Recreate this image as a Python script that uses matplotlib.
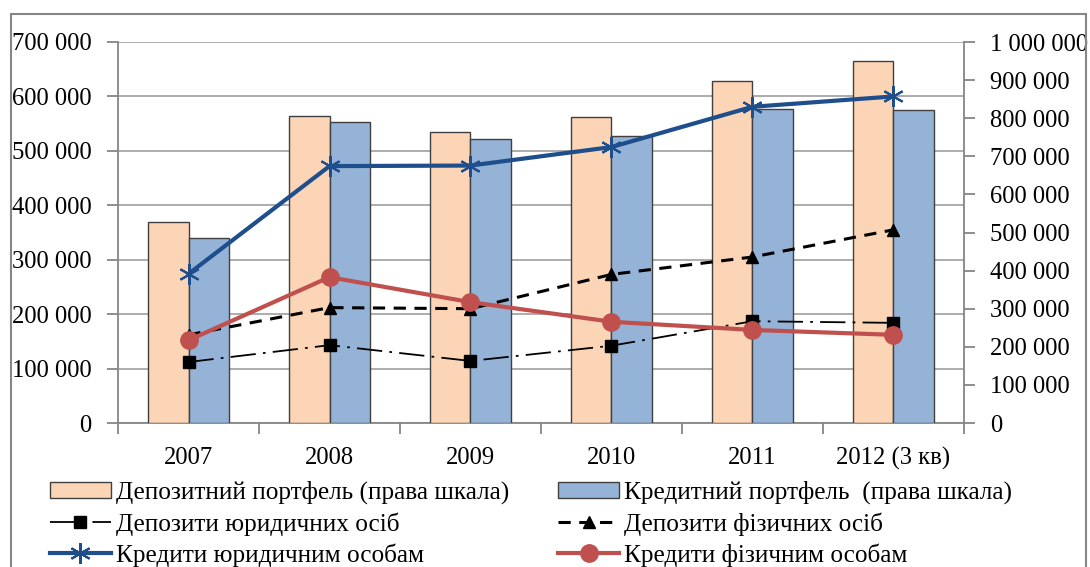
import numpy as np
import matplotlib
matplotlib.use('Agg')
import matplotlib.pyplot as plt
from matplotlib.patches import Rectangle
from matplotlib.ticker import FuncFormatter, FixedLocator

# data
years = ['2007', '2008', '2009', '2010', '2011', '2012 (3 кв)']
deposit_portfolio = [528000, 806000, 764000, 803000, 898000, 951000]   # right scale
credit_portfolio = [486000, 790000, 745000, 752000, 825000, 821000]    # right scale
deposits_legal = [112000, 143000, 114000, 142000, 187000, 184000]
deposits_individ = [162000, 212000, 210000, 273000, 305000, 355000]
credits_legal = [274000, 472000, 473000, 507000, 581000, 600000]
credits_individ = [152000, 268000, 222000, 186000, 171000, 162000]

LABELS = ['Депозитний портфель (права шкала)', 'Кредитний портфель  (права шкала)',
          'Депозити юридичних осіб', 'Депозити фізичних осіб',
          'Кредити юридичним особам', 'Кредити фізичним особам']

W, H = 1090, 567
FS = 17.7
FS_LEG = 18.2
GRID_C = '#A6A6A6'
AXIS_C = '#868686'

plt.rcParams['font.family'] = ['Liberation Serif', 'DejaVu Serif']


def space_fmt(v, _pos):
    return f'{int(round(v)):,}'.replace(',', ' ')


fig = plt.figure(figsize=(W / 100, H / 100), dpi=100)
ax = fig.add_axes([118 / W, 1 - 423 / H, (964 - 118) / W, (423 - 42) / H])
ax2 = ax.twinx()   # bars, right scale
ax3 = ax.twinx()   # lines, left scale, drawn on top

x = np.arange(len(years))
bw = 0.285

# --- base axis: grid + left ticks ---------------------------------------------
ax.set_xlim(-0.5, len(years) - 0.5)
ax.set_ylim(0, 700000)
ax.yaxis.set_major_locator(FixedLocator(np.arange(0, 700001, 100000)))
ax.yaxis.set_major_formatter(FuncFormatter(space_fmt))
ax.yaxis.grid(True, color=GRID_C, lw=1.3)
ax.set_axisbelow(True)
ax.set_xticks(x)
ax.set_xticklabels(years)
ax.set_xticks(np.arange(-0.5, len(years)), minor=True)
ax.tick_params(axis='x', which='major', length=0, pad=17, labelsize=FS)
ax.tick_params(axis='x', which='minor', length=8, width=1.3, color=AXIS_C)
ax.tick_params(axis='y', length=8, width=1.3, color=AXIS_C, pad=11, labelsize=FS)
for s in ['top', 'right']:
    ax.spines[s].set_visible(False)
for s in ['left', 'bottom']:
    ax.spines[s].set_color(AXIS_C)
    ax.spines[s].set_linewidth(1.3)

# --- bars on right scale ------------------------------------------------------
ax2.set_ylim(0, 1000000)
ax2.yaxis.set_major_locator(FixedLocator(np.arange(0, 1000001, 100000)))
ax2.yaxis.set_major_formatter(FuncFormatter(space_fmt))
ax2.tick_params(axis='y', length=8, width=1.3, color=AXIS_C, pad=11, labelsize=FS)
for s in ['top', 'left', 'bottom']:
    ax2.spines[s].set_visible(False)
ax2.spines['right'].set_color(AXIS_C)
ax2.spines['right'].set_linewidth(1.3)

b1 = ax2.bar(x - bw / 2, deposit_portfolio, bw, color='#FBD5B5', edgecolor='#404040', lw=1.0)
b2 = ax2.bar(x + bw / 2, credit_portfolio, bw, color='#95B3D7', edgecolor='#404040', lw=1.0)

# --- lines on left scale ------------------------------------------------------
ax3.set_ylim(0, 700000)
ax3.set_yticks([])
for s in ax3.spines.values():
    s.set_visible(False)

l1, = ax3.plot(x, deposits_legal, color='black', lw=1.3, ls=(0, (14, 4, 1.5, 4)),
               marker='s', ms=8, mfc='black', mec='black')
l2, = ax3.plot(x, deposits_individ, color='black', lw=2.2, ls=(0, (4, 2.8)),
               marker='^', ms=8, mfc='black', mec='black')
l3, = ax3.plot(x, credits_legal, color='#1F4E8C', lw=3, marker=(6, 2, 0), ms=15,
               mew=1.5, mec='#1F4E8C')
l4, = ax3.plot(x, credits_individ, color='#C0504D', lw=3, marker='o', ms=12.5,
               mfc='#C0504D', mec='#C0504D')

# --- legend below the plot (row-major order, as in the original) -------------
handles = [b1, l1, l3, b2, l2, l4]
labels = [LABELS[0], LABELS[2], LABELS[4], LABELS[1], LABELS[3], LABELS[5]]
fig.legend(handles, labels, loc='upper left', bbox_to_anchor=(50 / W, 1 - 481 / H),
           ncol=2, frameon=False, fontsize=FS_LEG, borderpad=0, borderaxespad=0,
           handlelength=2.4, handletextpad=0.2, labelspacing=0.3, columnspacing=1.95,
           handleheight=0.6)

# outer chart frame
fig.patches.append(Rectangle((11 / W, -0.1), (1086 - 11) / W, 1.1 - 14 / H,
                             transform=fig.transFigure, fill=False,
                             edgecolor=AXIS_C, lw=1.5))

fig.savefig('out.png', dpi=100)
